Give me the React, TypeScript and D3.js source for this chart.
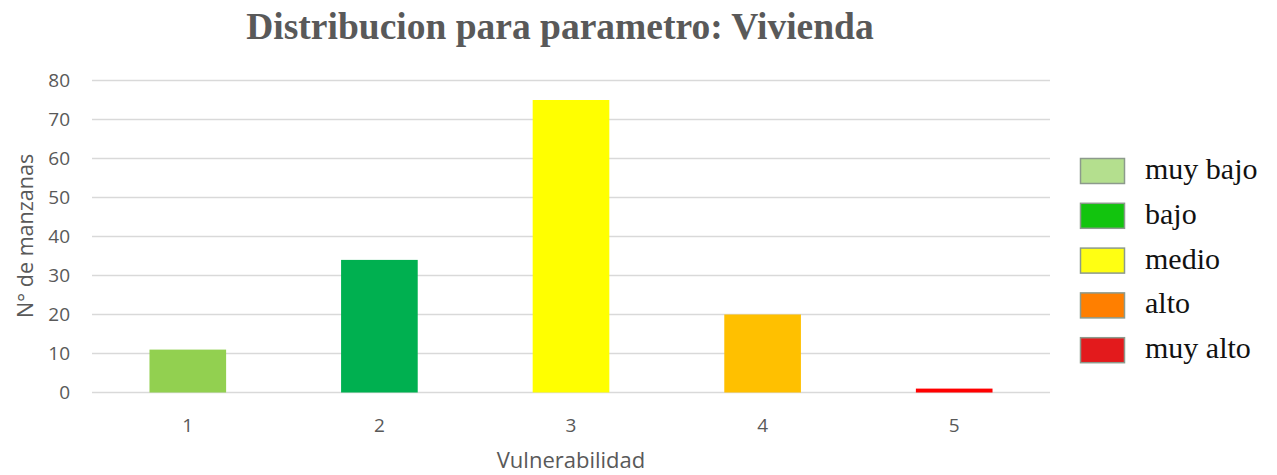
import React from "react";
import * as d3 from "d3";

const categories = ["1", "2", "3", "4", "5"];
const values = [11, 34, 75, 20, 1];
const barColors = ["#92D050", "#00B050", "#FFFF00", "#FFC000", "#FF0000"];
const yTicks = [0, 10, 20, 30, 40, 50, 60, 70, 80];
const legendLabels = ["muy bajo", "bajo", "medio", "alto", "muy alto"];
const legendColors = ["#B4DF8E", "#12C40E", "#FFFF12", "#FF7F00", "#E31A1C"];

const W = 1277;
const H = 475;
const plot = { left: 92, right: 1050, top: 80.5, bottom: 392.5 };

export default function App() {
  const x = d3
    .scaleBand<string>()
    .domain(categories)
    .range([plot.left, plot.right])
    .paddingInner(0.6)
    .paddingOuter(0.3);
  const y = d3.scaleLinear().domain([0, 80]).range([plot.bottom, plot.top]);
  const sans = "'Open Sans', sans-serif";
  const serif = "'Liberation Serif', 'Times New Roman', serif";
  const textColor = "#595959";

  return (
    <svg
      width={W}
      height={H}
      style={{ position: "absolute", left: 0, top: 0, background: "#fff" }}
    >
      <text
        x={560}
        y={39}
        textAnchor="middle"
        fontFamily={serif}
        fontWeight="bold"
        fontSize={37.5}
        fill={textColor}
      >
        Distribucion para parametro: Vivienda
      </text>
      {yTicks.map((t) => (
        <g key={t}>
          <line
            x1={plot.left}
            x2={plot.right}
            y1={y(t)}
            y2={y(t)}
            stroke="#D9D9D9"
            strokeWidth={1.5}
          />
          <text
            x={70}
            y={y(t)}
            dy="0.35em"
            textAnchor="end"
            fontFamily={sans}
            fontSize={19}
            fill={textColor}
          >
            {t}
          </text>
        </g>
      ))}
      {categories.map((c, i) => (
        <rect
          key={c}
          x={x(c)}
          y={y(values[i])}
          width={x.bandwidth()}
          height={y(0) - y(values[i])}
          fill={barColors[i]}
        />
      ))}
      {categories.map((c) => (
        <text
          key={c}
          x={(x(c) as number) + x.bandwidth() / 2}
          y={432}
          textAnchor="middle"
          fontFamily={sans}
          fontSize={19}
          fill={textColor}
        >
          {c}
        </text>
      ))}
      <text
        x={571}
        y={468}
        textAnchor="middle"
        fontFamily={sans}
        fontSize={22}
        fill={textColor}
      >
        Vulnerabilidad
      </text>
      <text
        transform={`translate(33, 236) rotate(-90)`}
        textAnchor="middle"
        fontFamily={sans}
        fontSize={21.5}
        fill={textColor}
      >
        N° de manzanas
      </text>
      {legendLabels.map((l, i) => (
        <g key={l} transform={`translate(1080, ${158 + i * 44.8})`}>
          <rect
            x={0.5}
            y={0.5}
            width={44}
            height={25}
            fill={legendColors[i]}
            stroke="#8C9A8C"
            strokeWidth={1.5}
          />
          <text
            x={65}
            y={21}
            fontFamily={serif}
            fontSize={30}
            fill="#111"
          >
            {l}
          </text>
        </g>
      ))}
    </svg>
  );
}
